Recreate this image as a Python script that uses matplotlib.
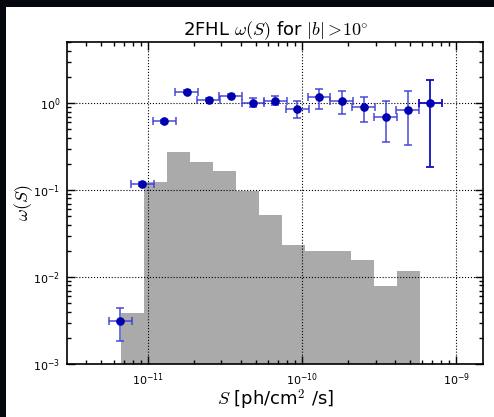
import numpy as np
import matplotlib
matplotlib.use("Agg")
import matplotlib.pyplot as plt
from matplotlib.patches import Rectangle
from matplotlib.ticker import NullFormatter

plt.rcParams['mathtext.fontset'] = 'cm'
plt.rcParams['font.family'] = ['DejaVu Sans']

# Histogram (grey) – log10 bin edges and heights
hist_log_edges = [-11.175, -11.026, -10.876, -10.727, -10.578, -10.428, -10.279,
                  -10.130, -9.980, -9.831, -9.682, -9.532, -9.383, -9.233]
hist_heights = [0.0039, 0.125, 0.271, 0.212, 0.165, 0.098, 0.051,
                0.0236, 0.0197, 0.0197, 0.0157, 0.0079, 0.0117]

# Data points
pts_x = [6.64e-12, 9.23e-12, 1.28e-11, 1.79e-11, 2.49e-11, 3.45e-11, 4.81e-11,
         6.71e-11, 9.33e-11, 1.29e-10, 1.81e-10, 2.52e-10, 3.50e-10, 4.86e-10, 6.79e-10]
pts_y = [0.00312, 0.118, 0.615, 1.35, 1.09, 1.21, 1.01,
         1.07, 0.86, 1.17, 1.05, 0.90, 0.70, 0.83, 1.00]
pts_ylo = [0.00184, 0.112, 0.59, 1.30, 1.05, 1.16, 0.91,
           0.95, 0.68, 0.85, 0.74, 0.61, 0.353, 0.329, 0.184]
pts_yhi = [0.00440, 0.124, 0.64, 1.40, 1.13, 1.26, 1.13,
           1.21, 1.045, 1.47, 1.37, 1.19, 1.045, 1.36, 1.82]
pts_xhalf_dex = 0.0735

fig = plt.figure(figsize=(4.94, 4.17), dpi=100)
fig.patch.set_facecolor('#04070d')
fig.patches.append(Rectangle((6/494, 0), 1, (417-7)/417, transform=fig.transFigure,
                             facecolor='white', edgecolor='none', zorder=-10))

ax = fig.add_axes([67.3/494, (417-364)/417, (483.3-67.3)/494, (364-42.3)/417])
ax.set_xscale('log')
ax.set_yscale('log')

edges = 10**np.array(hist_log_edges)
ax.stairs(hist_heights, edges, fill=True, color='#aaaaaa', baseline=1e-6, zorder=1)

x = np.array(pts_x)
y = np.array(pts_y)
f = 10**pts_xhalf_dex
xerr = np.vstack([x - x/f, x*f - x])
yerr = np.vstack([y - np.array(pts_ylo), np.array(pts_yhi) - y])

n = len(x)
ax.errorbar(x[:n-1], y[:n-1], xerr=xerr[:, :n-1], yerr=yerr[:, :n-1], fmt='none',
            ecolor='#3b3bd6', elinewidth=1.2, capsize=3, capthick=1.2, alpha=0.85, zorder=3)
ax.errorbar(x[n-1:], y[n-1:], xerr=xerr[:, n-1:], yerr=yerr[:, n-1:], fmt='none',
            ecolor='#1010c0', elinewidth=1.3, capsize=3, capthick=1.3, zorder=3)
ax.plot(x, y, 'o', color='#0000b0', markersize=5.2, zorder=4)

ax.set_xlim(3.01e-12, 1.5e-9)
ax.set_ylim(1e-3, 5.0)

ax.grid(True, which='major', linestyle=':', color='black', linewidth=0.8, zorder=2)
ax.set_axisbelow(False)

ax.xaxis.set_minor_formatter(NullFormatter())
ax.yaxis.set_minor_formatter(NullFormatter())
ax.tick_params(which='both', direction='in', top=True, right=True, labelsize=8)
ax.tick_params(which='major', length=6, width=1.0, pad=5)
ax.tick_params(which='minor', length=3, width=1.0)
for s in ax.spines.values():
    s.set_linewidth(1.2)

ax.set_title(r'2FHL $\omega(S)$ for $|b|>\!10^{\circ}$', fontsize=13, pad=4)
ax.set_xlabel(r'$S$ [ph/cm$^2$ /s]', fontsize=13)
ax.set_ylabel(r'$\omega(S)$', fontsize=13)
ax.xaxis.set_label_coords(0.5, -0.0715)
ax.yaxis.set_label_coords(-0.078, 0.5)

fig.savefig('out.png', dpi=100, facecolor=fig.get_facecolor())
